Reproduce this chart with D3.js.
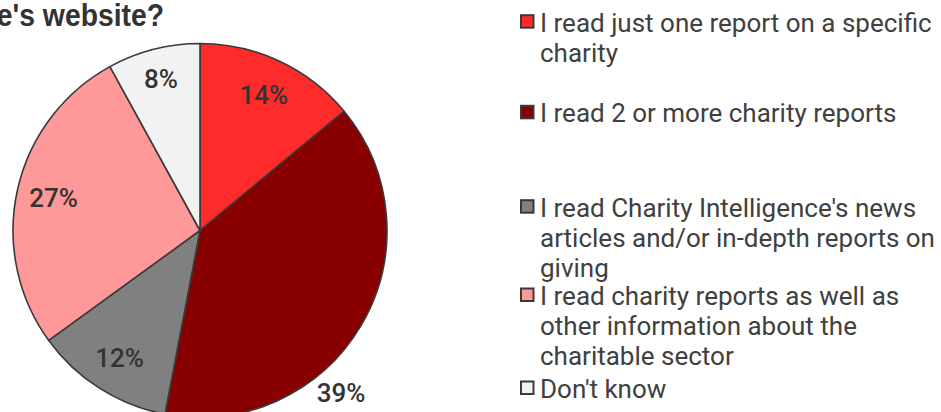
<!DOCTYPE html>
<html>
<head>
<meta charset="utf-8">
<script src="https://cdn.jsdelivr.net/npm/d3@7/dist/d3.min.js"></script>
<style>
  html, body { margin: 0; padding: 0; background: #fff; overflow: hidden; }
  svg { display: block; }
</style>
</head>
<body>
<svg id="chart" width="941" height="412"></svg>
<script>
// Survey answers, clockwise from 12 o'clock
const categories = [
  "I read just one report on a specific charity",
  "I read 2 or more charity reports",
  "I read Charity Intelligence's news articles and/or in-depth reports on giving",
  "I read charity reports as well as other information about the charitable sector",
  "Don't know"
];
const values = [14, 39, 12, 27, 8];
const colors = ["#ff2b2b", "#880000", "#808080", "#ff9999", "#f2f2f2"];

// Legend entries wrapped onto lines
const legendLines = [
  ["I read just one report on a specific", "charity"],
  ["I read 2 or more charity reports"],
  ["I read Charity Intelligence's news", "articles and/or in-depth reports on", "giving"],
  ["I read charity reports as well as", "other information about the", "charitable sector"],
  ["Don't know"]
];

const titleText = "How do you use Charity Intelligence's website?";

// Layout
const cx = 200, cy = 230.5, R = 187;
const labelRadius = [150, 215, 150, 150, 157];
const labelAngleDeg = [null, 139, null, null, null]; // null = slice middle
const legendX = 520, legendTextX = 540;
const legendBaselines = [31.7, 122.3, 216.7, 305, 398];
const lineHeight = 30;

const svg = d3.select("#chart");

// Title (extends past the left edge)
svg.append("text")
  .attr("transform", "translate(164,25.5) scale(0.885,1)")
  .attr("text-anchor", "end")
  .attr("font-family", "'Liberation Sans', Arial, sans-serif")
  .attr("font-weight", "bold")
  .attr("font-size", 32)
  .attr("fill", "#333")
  .text(titleText);

const pie = d3.pie().sort(null).value(d => d)(values);
const arc = d3.arc().innerRadius(0).outerRadius(R);

const g = svg.append("g").attr("transform", `translate(${cx},${cy})`);

g.selectAll("path.slice")
  .data(pie)
  .join("path")
  .attr("class", "slice")
  .attr("d", arc)
  .attr("fill", (d, i) => colors[i])
  .attr("stroke", "#3a3a3a")
  .attr("stroke-width", 1.6)
  .attr("stroke-linejoin", "round");

g.selectAll("text.lbl")
  .data(pie)
  .join("text")
  .attr("class", "lbl")
  .attr("transform", (d, i) => {
    const a = labelAngleDeg[i] != null ? labelAngleDeg[i] * Math.PI / 180 : (d.startAngle + d.endAngle) / 2;
    const r = labelRadius[i];
    return `translate(${r * Math.sin(a)},${-r * Math.cos(a)})`;
  })
  .attr("text-anchor", "middle")
  .attr("dy", "0.36em")
  .attr("font-family", "Roboto, 'Liberation Sans', Arial, sans-serif")
  .attr("font-weight", 500)
  .attr("font-size", 26)
  .attr("fill", "#333")
  .text(d => d.value + "%");

// Legend
const leg = svg.append("g");
legendLines.forEach((lines, i) => {
  const base = legendBaselines[i];
  leg.append("rect")
    .attr("x", legendX + 1)
    .attr("y", base - 16.5)
    .attr("width", 12.5)
    .attr("height", 12.5)
    .attr("fill", colors[i])
    .attr("stroke", "#3a3a3a")
    .attr("stroke-width", 2);
  const t = leg.append("text")
    .attr("font-family", "Roboto, 'Liberation Sans', Arial, sans-serif")
    .attr("font-size", 26)
    .attr("fill", "#404040");
  lines.forEach((ln, j) => {
    t.append("tspan")
      .attr("x", legendTextX)
      .attr("y", base + j * lineHeight)
      .text(ln);
  });
});
</script>
</body>
</html>
